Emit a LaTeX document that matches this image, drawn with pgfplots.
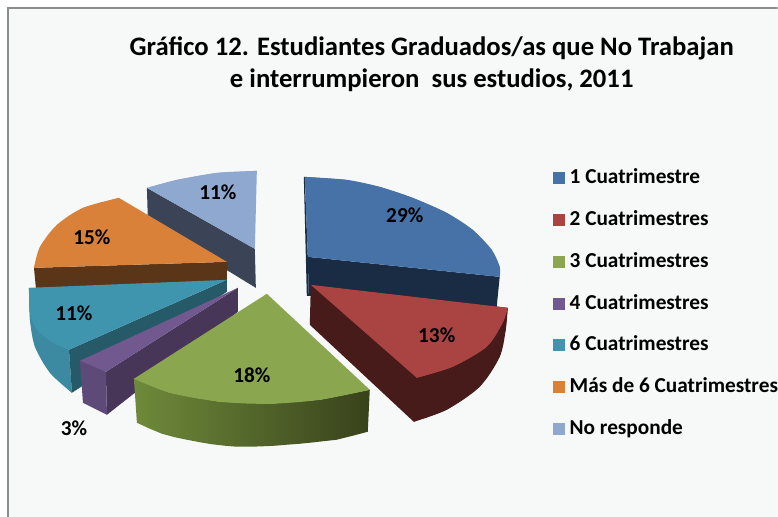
\documentclass[border=0pt]{standalone}
\usepackage{pgfplots}
\pgfplotsset{compat=1.18}
\usepackage{fontspec}
\setmainfont{Carlito}
\definecolor{bg}{HTML}{F7F8F8}
\definecolor{frame}{HTML}{8C8C8C}
\definecolor{cA}{HTML}{4672A8}\definecolor{cAs}{HTML}{192C44}
\definecolor{cB}{HTML}{A94442}\definecolor{cBs}{HTML}{461B19}
\definecolor{cC}{HTML}{8AA64E}\definecolor{cCl}{HTML}{6F8A3A}\definecolor{cCr}{HTML}{38421B}
\definecolor{cD}{HTML}{71588F}\definecolor{cDs}{HTML}{483659}\definecolor{cDf}{HTML}{5E4A78}
\definecolor{cE}{HTML}{3F95AE}\definecolor{cEs}{HTML}{265A68}\definecolor{cEo}{HTML}{3B8AA2}
\definecolor{cF}{HTML}{D98138}\definecolor{cFs}{HTML}{5B3517}
\definecolor{cG}{HTML}{8FA8D0}\definecolor{cGs}{HTML}{3B4356}
\begin{document}
\begin{tikzpicture}
\begin{axis}[
  width=778pt,height=517pt,scale only axis,
  xmin=0,xmax=778,ymin=0,ymax=517,y dir=reverse,
  axis lines=none,clip=true,
  every axis plot/.append style={no markers,sharp plot,draw=none,forget plot},
  legend image code/.code={\fill[#1] (0pt,-6pt) rectangle (12pt,6pt);\path (17pt,0pt);},
  legend style={at={(axis cs:553,169)},anchor=north west,draw=none,fill=none,inner sep=0pt,outer sep=0pt,
    row sep=22.8pt,font=\fontsize{21.3}{23}\selectfont\bfseries,
    nodes={inner sep=0pt,outer sep=0pt,text height=15pt,text depth=4pt}},
  legend cell align=left,
]
% page, background and frame
\addplot[fill=white] coordinates {(0,0)(778,0)(778,517)(0,517)};
\addplot[fill=bg] coordinates {(8,8)(778,8)(778,517)(8,517)};
\addplot[draw=frame,line width=2pt,fill=none] coordinates {(8,517)(8,8)(778,8)};
% No responde
\addplot[fill=cGs] coordinates {(147,188)(255,249)(256,288)(148,222)};
\addplot[fill=cG] coordinates {(147,188)(177,180)(217,173)(257,171)(255,249)};
\addplot[fill=cG,smooth] coordinates {(147,188)(177,180)(217,173)(257,171)};
% 1 Cuatrimestre
\addplot[fill=cAs] coordinates {(304,177)(307,296)(309,296)(308,257)(305,177)};
\addplot[fill=cAs] coordinates {(308,257)(500,277)(497,307)(309,296)};
\addplot[fill=cA] coordinates {(305,177)(347,180)(380,187)(413,198)(447,213)(473,230)(492,250)(500,267)(500,277)(308,257)};
\addplot[fill=cA,smooth] coordinates {(305,177)(347,180)(380,187)(413,198)(447,213)(473,230)(492,250)(500,267)(500,277)};
% 2 Cuatrimestres
\addplot[fill=cBs] coordinates {(311,285)(508,308)(506,330)(500,357)(480,387)(447,410)(414,422)(310,325)};
\addplot[fill=cBs,smooth] coordinates {(508,308)(506,330)(500,357)(480,387)(447,410)(414,422)};
\addplot[fill=cB] coordinates {(311,285)(508,308)(503,323)(487,347)(453,367)(417,378)};
\addplot[fill=cB,smooth] coordinates {(508,308)(503,323)(487,347)(453,367)(417,378)};
% Orange
\addplot[fill=cFs] coordinates {(34,268)(227,262)(227,281)(36,289)};
\addplot[fill=cF] coordinates {(119,198)(227,262)(34,268)(40,247)(57,225)(83,208)};
\addplot[fill=cF,smooth] coordinates {(34,268)(40,247)(57,225)(83,208)(119,198)};
% Teal
\addplot[fill=cEo] coordinates {(29,288)(30,320)(35,347)(50,373)(72,393)(69,350)};
\addplot[fill=cEo,smooth] coordinates {(29,288)(30,320)(35,347)(50,373)(72,393)};
\addplot[fill=cEs] coordinates {(69,350)(227,280)(227,292)(72,393)};
\addplot[fill=cE] coordinates {(29,288)(227,280)(69,350)(53,343)(37,330)(30,313)};
\addplot[fill=cE,smooth] coordinates {(69,350)(53,343)(37,330)(30,313)(29,288)};
% Purple
\addplot[fill=cDs] coordinates {(106,372)(238,288)(238,312)(107,415)};
\addplot[fill=cDf] coordinates {(80,361)(106,372)(107,415)(83,403)};
\addplot[fill=cD] coordinates {(80,361)(238,288)(106,372)};
% Green
\addplot[left color=cCl,right color=cCr] coordinates {(134,379)(170,393)(220,402)(270,404)(320,400)(370,390)(368,432)
  (353,436)(337,440)(325,441.3)(312,442.8)(300,444)(287,445)(275,446)(262,446.6)(250,447)(237,447)(225,446)(212,444.5)(200,442.5)(187,440)(175,437.5)(162,434)(150,429)(137,423)};
\addplot[fill=cC] coordinates {(267,294)(370,390)(320,400)(270,404)(220,402)(170,393)(134,379)};
\addplot[fill=cC,smooth] coordinates {(370,390)(320,400)(270,404)(220,402)(170,393)(134,379)};
% Legend
\addlegendimage{fill=cA}\addlegendentry{1 Cuatrimestre}
\addlegendimage{fill=cB}\addlegendentry{2 Cuatrimestres}
\addlegendimage{fill=cC}\addlegendentry{3 Cuatrimestres}
\addlegendimage{fill=cD}\addlegendentry{4 Cuatrimestres}
\addlegendimage{fill=cE}\addlegendentry{6 Cuatrimestres}
\addlegendimage{fill=cF}\addlegendentry{Más de 6 Cuatrimestres}
\addlegendimage{fill=cG}\addlegendentry{No responde}
% Title and labels
\node[font=\fontsize{26.7}{32}\selectfont\bfseries,align=center,anchor=center] at (axis cs:432,64)
  {Gráfico 12. Estudiantes Graduados/as que No Trabajan\\e interrumpieron\ \ sus estudios, 2011};
\tikzset{lab/.style={font=\fontsize{21.3}{23}\selectfont\bfseries,inner sep=0pt}}
\node[lab] at (axis cs:405,215) {29\%};
\node[lab] at (axis cs:437,335) {13\%};
\node[lab] at (axis cs:252,375) {18\%};
\node[lab] at (axis cs:74,429) {3\%};
\node[lab] at (axis cs:74,313) {11\%};
\node[lab] at (axis cs:92,237) {15\%};
\node[lab] at (axis cs:218,192) {11\%};
\end{axis}
\end{tikzpicture}
\end{document}
